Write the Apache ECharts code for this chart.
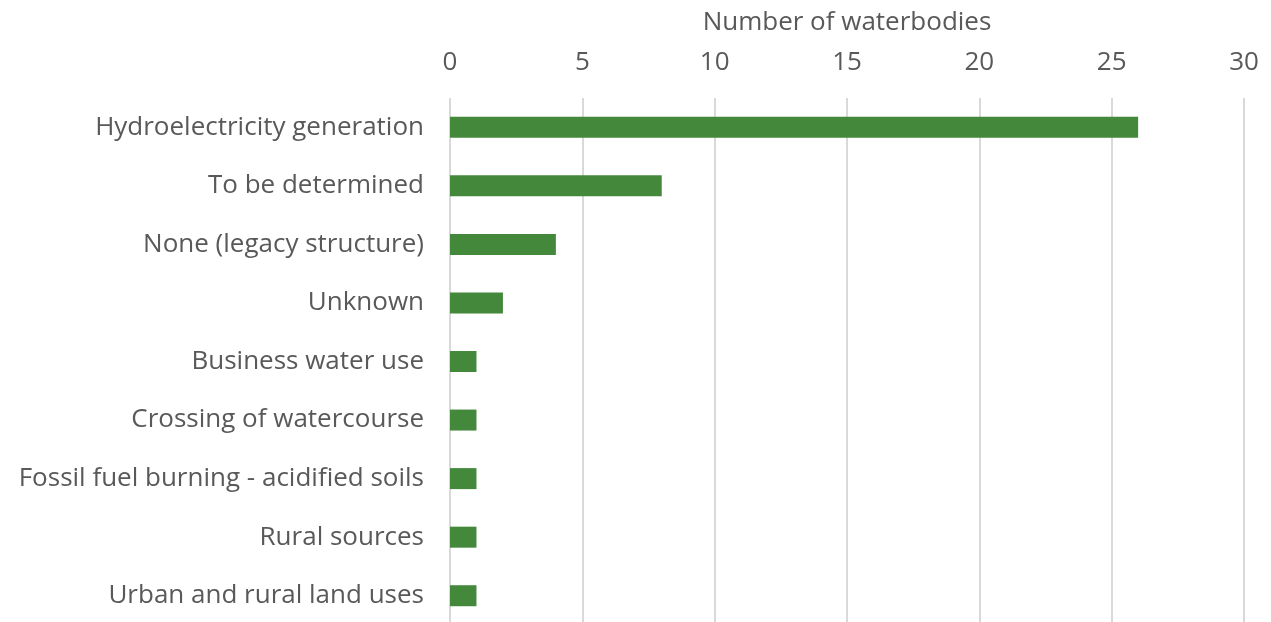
<!DOCTYPE html>
<html>
<head>
<meta charset="utf-8">
<script src="https://cdn.jsdelivr.net/npm/echarts@6/dist/echarts.min.js"></script>
<style>
  html, body { margin: 0; padding: 0; background: #fff; }
  #main { width: 1271px; height: 622px; }
</style>
</head>
<body>
<div id="main"></div>
<script>
// pressures on waterbodies
var categories = [
  'Hydroelectricity generation',
  'To be determined',
  'None (legacy structure)',
  'Unknown',
  'Business water use',
  'Crossing of watercourse',
  'Fossil fuel burning - acidified soils',
  'Rural sources',
  'Urban and rural land uses'
]
var counts = [26, 8, 4, 2, 1, 1, 1, 1, 1]
var axisName = 'Number of waterbodies'

var myChart = echarts.init(document.getElementById('main'))
var option = {
  animation: false,
  textStyle: { fontFamily: 'Open Sans' },
  grid: {
    top: 98,
    left: 450,
    right: 27,
    bottom: -3,
    outerBoundsMode: 'none'
  },
  xAxis: {
    type: 'value',
    position: 'top',
    min: 0,
    max: 30,
    interval: 5,
    name: axisName,
    nameLocation: 'middle',
    nameGap: 62,
    nameTextStyle: { color: '#595959', fontSize: 26, fontFamily: 'Open Sans' },
    axisLine: { show: false },
    axisTick: { show: false },
    axisLabel: { color: '#595959', fontSize: 26, margin: 22 },
    splitLine: { show: true, lineStyle: { color: '#d9d9d9', width: 2 } }
  },
  yAxis: {
    type: 'category',
    inverse: true,
    data: categories,
    axisLine: { show: false },
    axisTick: { show: false },
    axisLabel: { color: '#595959', fontSize: 26, margin: 26 }
  },
  series: [{
    type: 'bar',
    data: counts,
    barWidth: 21,
    itemStyle: { color: '#43883b' }
  }]
}
myChart.setOption(option)
</script>
</body>
</html>
